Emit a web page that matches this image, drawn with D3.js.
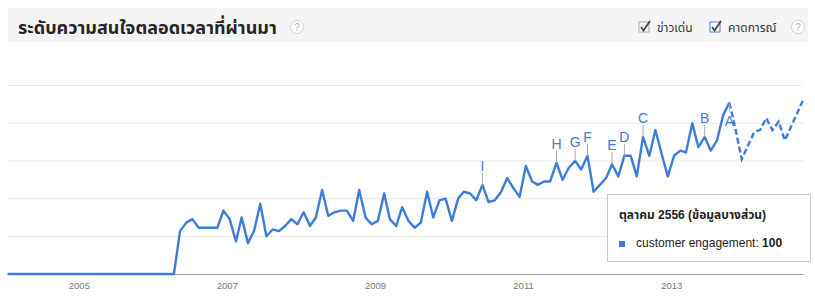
<!DOCTYPE html>
<html>
<head>
<meta charset="utf-8">
<script src="https://cdn.jsdelivr.net/npm/d3@7"></script>
<style>
  body { margin: 0; background: #fff; }
  svg text { font-family: Arial, "Liberation Sans", "Noto Sans Thai", "Noto Sans", sans-serif; }
</style>
</head>
<body>
<div id="chart"></div>
<script>
// monthly interest, Jan 2004 .. Oct 2013 (last month is partial)
const startMonth = '2004-01';
const values = [
  0, 0, 0, 0, 0, 0, 0, 0, 0, 0, 0, 0,
  0, 0, 0, 0, 0, 0, 0, 0, 0, 0, 0, 0,
  0, 0, 0, 0, 25, 30, 32, 27, 27, 27, 27, 37,
  32, 19, 33, 18, 25, 41, 22, 26, 25, 28, 32, 29,
  36, 28, 33, 49, 34, 36, 37, 37, 31, 49, 33, 29,
  31, 47, 32, 28, 39, 31, 27, 30, 48, 33, 43, 44,
  31, 44, 48, 47, 43, 52, 42, 43, 48, 56, 50, 45,
  63, 54, 52, 54, 54, 65, 55, 62, 66, 61, 69, 48,
  52, 56, 64, 57, 69, 69, 57, 80, 69, 84, 70, 57,
  69, 72, 71, 88, 74, 80, 72, 78, 93, 100
];
// forecast, Oct 2013 .. Oct 2014
const forecast = [100, 84, 67, 75, 83, 84, 91, 84, 89, 78, 86, 94, 102];

const tickYears = ['2005', '2007', '2009', '2011', '2013'];

const newsLetters = ['I', 'H', 'G', 'F', 'E', 'D', 'C', 'B', 'A'];
const newsMonths = ['2010-06', '2011-06', '2011-09', '2011-11', '2012-03', '2012-05', '2012-08', '2013-06', '2013-10'];

const title = 'ระดับความสนใจตลอดเวลาที่ผ่านมา';
const checkLabels = ['ข่าวเด่น', 'คาดการณ์'];
const tipTitle = 'ตุลาคม 2556 (ข้อมูลบางส่วน)';
const tipSeries = 'customer engagement';
const tipValue = 100;

const W = 815, H = 299;
const blue = '#3b7dd8';

const parseMonth = d3.timeParse('%Y-%m');
const mid = m => d3.timeDay.offset(m, 14);
const first = parseMonth(startMonth);
const months = d3.range(values.length).map(i => mid(d3.timeMonth.offset(first, i)));
const fMonths = d3.range(forecast.length).map(i => mid(d3.timeMonth.offset(first, values.length - 1 + i)));

const x = d3.scaleTime()
  .domain([months[0], fMonths[fMonths.length - 1]])
  .range([7.5, 803.4]);
const y = d3.scaleLinear().domain([0, 110]).range([274, 85.5]);

const svg = d3.select('#chart').append('svg')
  .attr('width', W).attr('height', H);

// header band
svg.append('rect').attr('x', 8).attr('y', 8).attr('width', 800).attr('height', 34).attr('fill', '#f4f4f4');
svg.append('text').attr('x', 18).attr('y', 34).attr('font-size', 18).attr('font-weight', 'bold')
  .attr('fill', '#262626').text(title);

function helpIcon(cx) {
  const g = svg.append('g').attr('transform', 'translate(' + cx + ',27)');
  g.append('circle').attr('r', 6.5).attr('fill', '#fff').attr('stroke', '#d0d0d0');
  g.append('text').attr('y', 3.5).attr('text-anchor', 'middle').attr('font-size', 10).attr('fill', '#b5b5b5').text('?');
}
helpIcon(297);
helpIcon(798);

// checkboxes
const boxX = [639, 710];
const boxStroke = ['#a8a8a8', '#4a86c8'];
checkLabels.forEach((lbl, i) => {
  const g = svg.append('g').attr('transform', 'translate(' + boxX[i] + ',22)');
  g.append('rect').attr('width', 10).attr('height', 10).attr('fill', '#fff').attr('stroke', boxStroke[i]);
  g.append('path').attr('d', 'M2,5 L4.5,8.5 L11,-1').attr('fill', 'none').attr('stroke', '#444').attr('stroke-width', 1.8);
  g.append('text').attr('x', 18).attr('y', 10).attr('font-size', 12).attr('fill', '#333').text(lbl);
});

// gridlines
const gridVals = d3.range(22, 111, 22);
svg.append('g').selectAll('line').data(gridVals).enter().append('line')
  .attr('x1', 8).attr('x2', 803)
  .attr('y1', d => y(d)).attr('y2', d => y(d))
  .attr('stroke', '#e8e8e8');

// x axis
const tickDates = tickYears.map(t => d3.timeParse('%Y')(t));
const xAxis = svg.append('g').attr('transform', 'translate(0,' + y(0) + ')')
  .call(d3.axisBottom(x).tickValues(tickDates).tickFormat(d3.timeFormat('%Y')).tickSize(0).tickPadding(8));
xAxis.select('.domain').attr('stroke', '#999').attr('d', 'M8,0.5H803');
xAxis.selectAll('text').attr('font-size', 9.5).attr('fill', '#777')
  .attr('font-family', 'Arial, "Liberation Sans", sans-serif');

// series
const line = d3.line().x(d => x(d[0])).y(d => y(d[1]));
svg.append('path').datum(months.map((m, i) => [m, values[i]]))
  .attr('d', line).attr('fill', 'none').attr('stroke', blue)
  .attr('stroke-width', 2.4).attr('stroke-linejoin', 'round');
svg.append('path').datum(fMonths.map((m, i) => [m, forecast[i]]))
  .attr('d', line).attr('fill', 'none').attr('stroke', blue)
  .attr('stroke-width', 2.4).attr('stroke-dasharray', '6,3');

// news markers
newsLetters.forEach((ltr, i) => {
  const m = mid(parseMonth(newsMonths[i]));
  const v = values[d3.timeMonth.count(first, m)];
  const px = x(m), py = y(v);
  const below = py - 20 < 90;
  const g = svg.append('g');
  g.append('line').attr('x1', px).attr('x2', px)
    .attr('y1', py).attr('y2', below ? py + 8 : py - 12)
    .attr('stroke', '#aaa').attr('stroke-width', 1);
  g.append('text').attr('x', px).attr('y', below ? py + 23 : py - 14)
    .attr('text-anchor', 'middle').attr('font-size', 14).attr('fill', '#4a78d4').text(ltr);
});

// tooltip
const tip = svg.append('g').attr('transform', 'translate(607,194)');
tip.append('rect').attr('x', 0.5).attr('y', 0.5).attr('width', 203).attr('height', 67)
  .attr('fill', '#fff').attr('stroke', '#c8c8c8');
tip.append('text').attr('x', 12).attr('y', 25).attr('font-size', 12).attr('font-weight', 'bold')
  .attr('fill', '#222').text(tipTitle);
tip.append('rect').attr('x', 12).attr('y', 47).attr('width', 6).attr('height', 6).attr('fill', blue);
const t2 = tip.append('text').attr('x', 29).attr('y', 53).attr('font-size', 12).attr('fill', '#222');
t2.append('tspan').text(tipSeries + ': ');
t2.append('tspan').attr('font-weight', 'bold').text(tipValue);
</script>
</body>
</html>
